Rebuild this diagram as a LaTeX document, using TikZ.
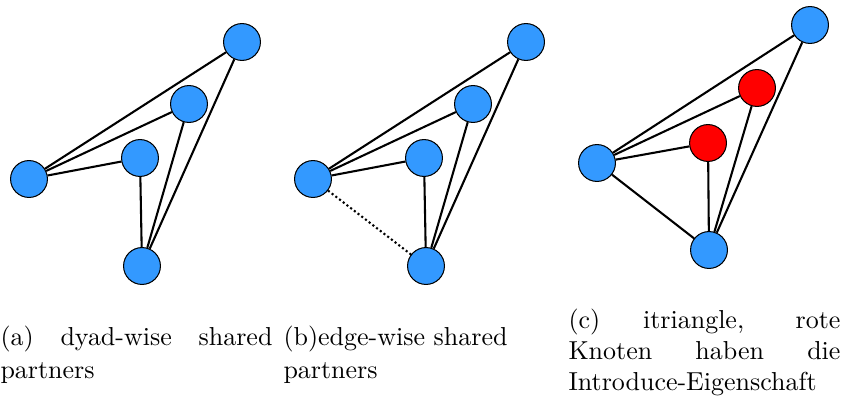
\documentclass[tikz,border=0pt]{standalone}
\usepackage{tikz}
\usetikzlibrary{positioning}
\definecolor{vertblue}{HTML}{3399FF}
\definecolor{vertred}{HTML}{FF0000}
\tikzset{
  vert/.style    = {circle, draw=black, line width=0.4pt, fill=vertblue,
                    minimum size=14.2pt, inner sep=0pt},
  redvert/.style = {vert, fill=vertred},
  tie/.style     = {draw=black, line width=0.8pt},
  tiedot/.style  = {tie, densely dotted},
  capt/.style    = {anchor=north west, inner sep=0pt, text width=104.7pt,
                    align=justify, font=\fontsize{10}{13}\selectfont},
}

\begin{document}
\begin{tikzpicture}[x=0.385pt, y=-0.385pt]
  \useasboundingbox (0,0) rectangle (842,399);

  % (a) dyad-wise
  \node[vert] (aT) at (242,42)  {};
  \node[vert] (aU) at (189,104) {};
  \node[vert] (aM) at (140,158) {};
  \node[vert] (aL) at (29,179)  {};
  \node[vert] (aB) at (142,266) {};
  \draw[tie] (aL) -- (aT);
  \draw[tie] (aL) -- (aU);
  \draw[tie] (aL) -- (aM);
  \draw[tie] (aM) -- (aB);
  \draw[tie] (aU) -- (aB);
  \draw[tie] (aT) -- (aB);

  % (b) edge-wise
  \node[vert] (bT) at (526,42)  {};
  \node[vert] (bU) at (473,104) {};
  \node[vert] (bM) at (424,158) {};
  \node[vert] (bL) at (313,179) {};
  \node[vert] (bB) at (426,266) {};
  \draw[tie] (bL) -- (bT);
  \draw[tie] (bL) -- (bU);
  \draw[tie] (bL) -- (bM);
  \draw[tie] (bM) -- (bB);
  \draw[tie] (bU) -- (bB);
  \draw[tie] (bT) -- (bB);
  \draw[tiedot] (bL) -- (bB);

  % (c) itriangle
  \node[vert]    (cT) at (810,25)  {};
  \node[redvert] (cU) at (757,88)  {};
  \node[redvert] (cM) at (708,143) {};
  \node[vert]    (cL) at (597,163) {};
  \node[vert]    (cB) at (709,250) {};
  \draw[tie] (cL) -- (cT);
  \draw[tie] (cL) -- (cU);
  \draw[tie] (cL) -- (cM);
  \draw[tie] (cM) -- (cB);
  \draw[tie] (cU) -- (cB);
  \draw[tie] (cT) -- (cB);
  \draw[tie] (cL) -- (cB);

  % captions
  \node[capt] (capA) at (0,325)
    {(a) dyad-wise shared\linebreak partners};
  \node[capt, align=left] (capB) at (283,325)
    {(b)edge-wise shared\\partners};
  \node[capt, font=\fontsize{10}{12}\selectfont] (capC) at (568,308)
    {(c) itriangle, rote\linebreak Knoten haben die\linebreak Introduce-Eigenschaft};
\end{tikzpicture}
\end{document}
